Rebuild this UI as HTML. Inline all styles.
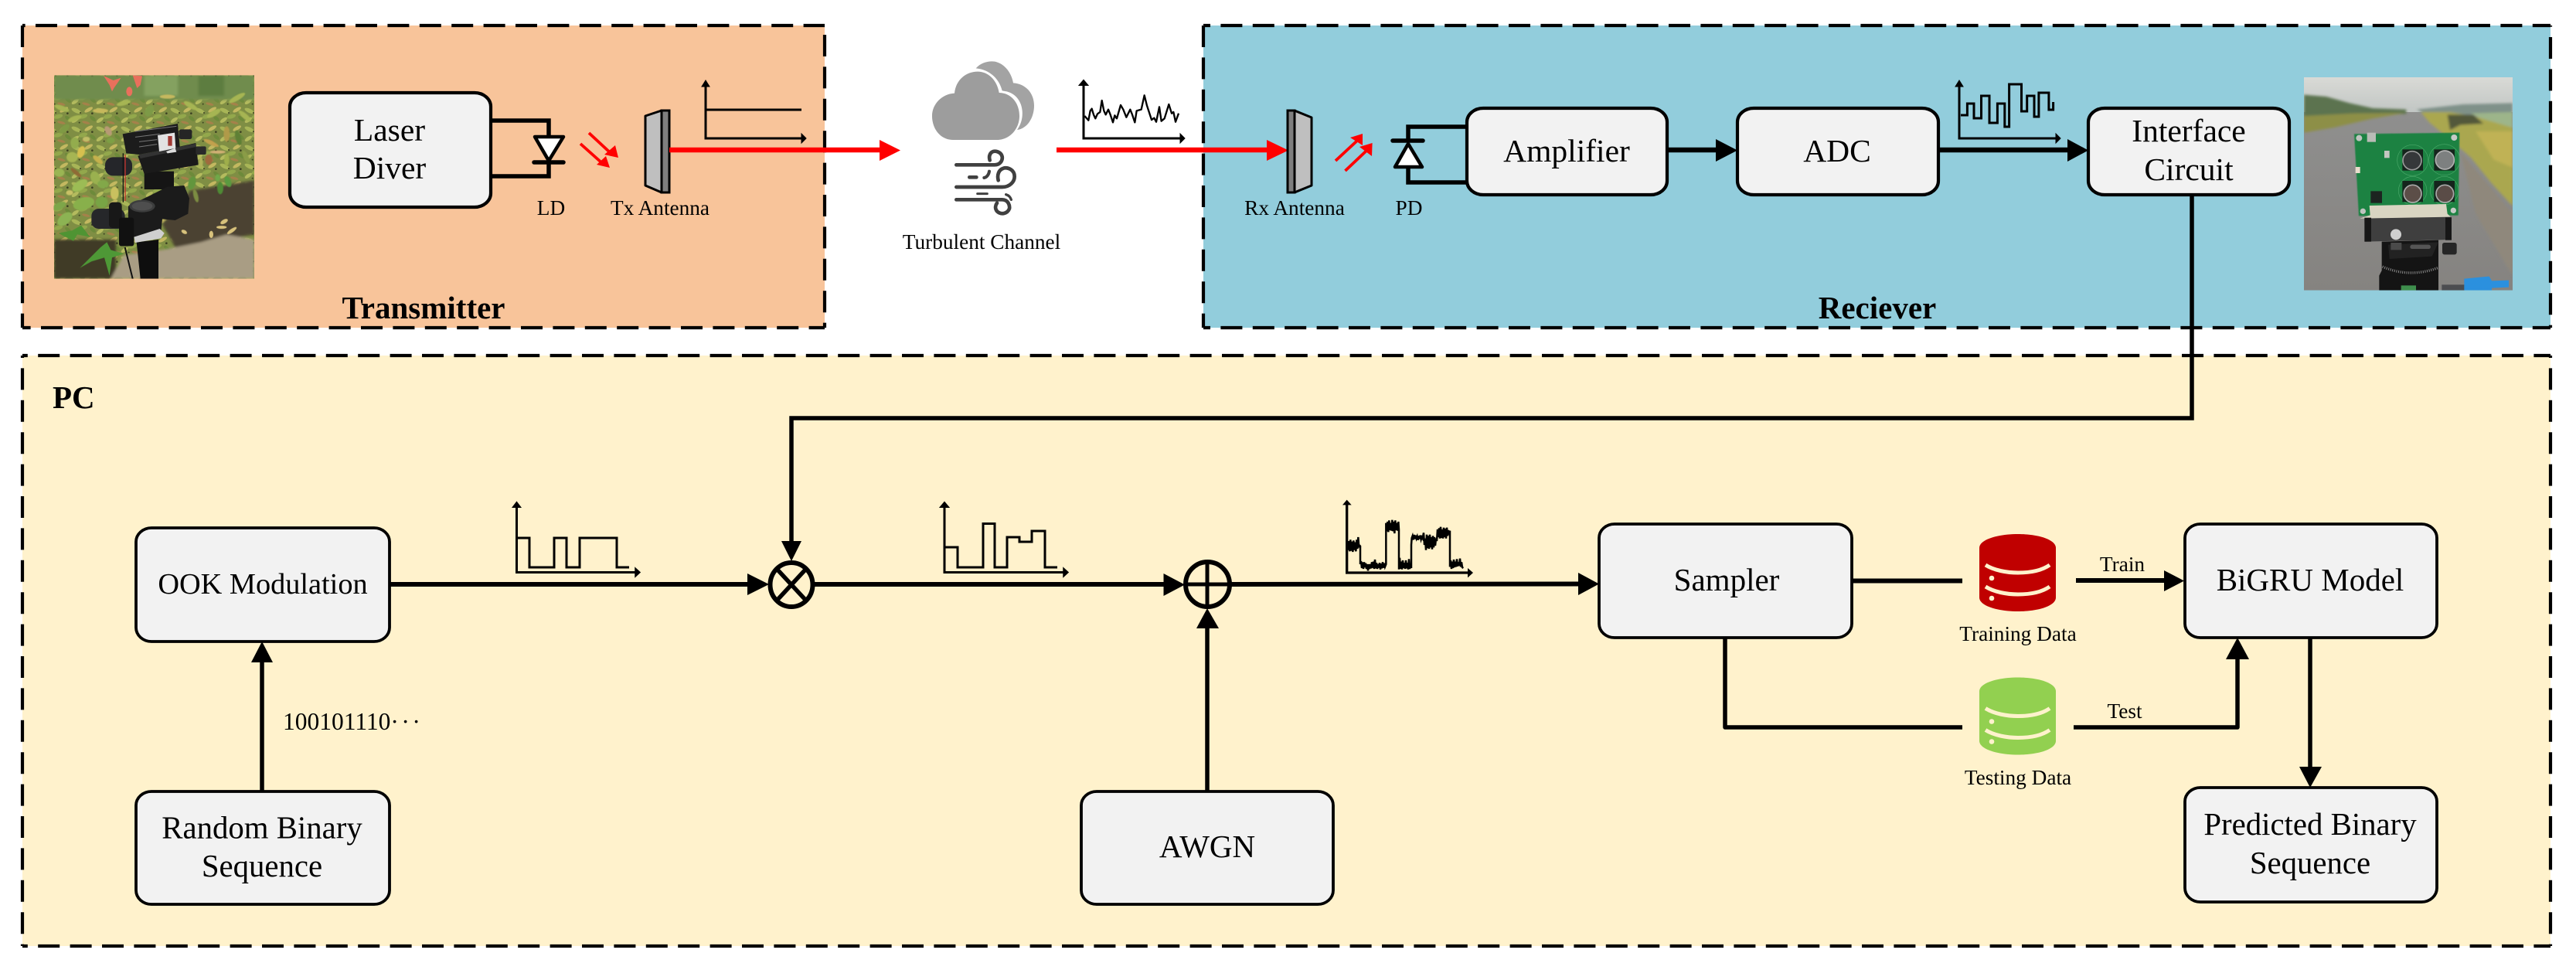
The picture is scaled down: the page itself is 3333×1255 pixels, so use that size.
<!DOCTYPE html>
<html><head><meta charset="utf-8"><title>Diagram</title>
<style>
html,body{margin:0;padding:0;background:#fff}
svg{display:block}
text{font-family:"Liberation Serif","Times New Roman",serif;fill:#000}
.b{font-size:41.5px;text-anchor:middle}
.s{font-size:27.3px;text-anchor:middle}
.h{font-size:41px;font-weight:bold;text-anchor:middle}
.box{fill:#f2f2f2;stroke:#000;stroke-width:4.2}
.bx2{fill:#f2f2f2;stroke:#000;stroke-width:3.8}
.d{fill:none;stroke:#000;stroke-width:4.2;stroke-dasharray:28 13.4}
.l{fill:none;stroke:#000;stroke-width:5.5}
.t{fill:none;stroke:#000;stroke-width:3}
</style></head>
<body>
<svg xmlns="http://www.w3.org/2000/svg" width="3333" height="1255" viewBox="0 0 3333 1255">
<defs>
<clipPath id="c1"><rect x="30" y="22" width="777" height="790"/></clipPath>
<clipPath id="c2"><rect x="33" y="30" width="810" height="827"/></clipPath>
<filter id="bl" x="-5%" y="-5%" width="110%" height="110%"><feGaussianBlur stdDeviation="5"/></filter>
<filter id="bs" x="-5%" y="-5%" width="110%" height="110%"><feGaussianBlur stdDeviation="1.6"/></filter>
<linearGradient id="sky" x1="0" y1="0" x2="0" y2="1"><stop offset="0" stop-color="#d9dad6"/><stop offset="1" stop-color="#bfc4c2"/></linearGradient>
<linearGradient id="road" x1="0" y1="0" x2="0" y2="1"><stop offset="0" stop-color="#8f8f8e"/><stop offset="1" stop-color="#858380"/></linearGradient>
<pattern id="lv" width="96" height="72" patternUnits="userSpaceOnUse">
<rect width="96" height="72" fill="#7f8e44"/>
<ellipse cx="20" cy="16" rx="20" ry="8" transform="rotate(25 20 16)" fill="#a8b557"/>
<ellipse cx="68" cy="12" rx="18" ry="7" transform="rotate(-30 68 12)" fill="#c3b860"/>
<ellipse cx="46" cy="38" rx="18" ry="8" transform="rotate(-15 46 38)" fill="#93a84c"/>
<ellipse cx="84" cy="46" rx="14" ry="7" transform="rotate(40 84 46)" fill="#6d8a3a"/>
<ellipse cx="16" cy="52" rx="16" ry="7" transform="rotate(-35 16 52)" fill="#b4bb5e"/>
<ellipse cx="58" cy="62" rx="16" ry="5" transform="rotate(15 58 62)" fill="#a5814a"/>
<circle cx="36" cy="24" r="3" fill="#3e4423"/><circle cx="82" cy="26" r="4" fill="#3b4022"/><circle cx="32" cy="62" r="3" fill="#3e4423"/>
</pattern>
</defs>

<!-- panels -->
<rect x="29" y="33" width="1038" height="391" fill="#f8c49a"/>
<rect x="1557" y="33" width="1743" height="391" fill="#92cddc"/>
<rect x="29" y="460" width="3271" height="764" fill="#fff2cc"/>

<!-- Photo 1 -->
<g transform="translate(60,90) scale(0.33333)" clip-path="url(#c1)">
<rect x="30" y="22" width="777" height="790" fill="url(#lv)"/>
<g filter="url(#bl)">
<rect x="30" y="22" width="777" height="95" fill="#6f8c4d"/>
<rect x="380" y="22" width="130" height="80" fill="#84a161"/>
<rect x="590" y="22" width="100" height="80" fill="#5d7d3f"/>
<polygon points="560,470 807,430 807,640 500,690 450,600" fill="#4c4230"/>
<rect x="30" y="660" width="240" height="152" fill="#3f3a28"/>
<polygon points="250,812 300,720 450,700 600,670 700,640 807,660 807,812" fill="#a99d84"/>
</g>
<g fill="#a6b552" filter="url(#bs)">
<ellipse cx="60" cy="150" rx="30" ry="10" transform="rotate(20 60 150)"/><ellipse cx="110" cy="190" rx="28" ry="10" transform="rotate(-20 110 190)"/><ellipse cx="210" cy="160" rx="30" ry="9" fill="#c6b85c"/><ellipse cx="300" cy="130" rx="28" ry="9" transform="rotate(-15 300 130)"/><ellipse cx="400" cy="160" rx="16" ry="24" transform="rotate(30 400 160)" fill="#7d9a46"/><ellipse cx="470" cy="105" rx="30" ry="8" fill="#c5b85f"/><ellipse cx="560" cy="140" rx="30" ry="10" transform="rotate(30 560 140)"/><ellipse cx="650" cy="170" rx="30" ry="11" transform="rotate(-30 650 170)"/><ellipse cx="740" cy="110" rx="36" ry="10" transform="rotate(-30 740 110)"/><ellipse cx="770" cy="180" rx="30" ry="10" transform="rotate(40 770 180)"/><ellipse cx="700" cy="250" rx="12" ry="30" fill="#b09a4a"/><ellipse cx="745" cy="265" rx="11" ry="30" transform="rotate(-15 745 265)" fill="#5f8036"/><ellipse cx="640" cy="285" rx="32" ry="8" transform="rotate(25 640 285)" fill="#c2a14e"/><ellipse cx="775" cy="340" rx="10" ry="28" transform="rotate(-25 775 340)" fill="#8a9c46"/><ellipse cx="665" cy="320" rx="30" ry="6" fill="#d2b074"/><ellipse cx="630" cy="350" rx="14" ry="20" fill="#a06a3c"/><ellipse cx="700" cy="350" rx="10" ry="24" fill="#9fae4b"/>
<ellipse cx="675" cy="460" rx="12" ry="24" fill="#4f8a36"/><ellipse cx="705" cy="435" rx="12" ry="22" transform="rotate(-20 705 435)" fill="#5a9a3f"/><ellipse cx="565" cy="440" rx="14" ry="26" transform="rotate(15 565 440)" fill="#62963e"/><ellipse cx="665" cy="420" rx="10" ry="14" fill="#70a848"/><ellipse cx="600" cy="360" rx="8" ry="20" fill="#b0b35a"/><ellipse cx="580" cy="490" rx="9" ry="26" transform="rotate(-15 580 490)" fill="#7c8c42"/>
<ellipse cx="145" cy="520" rx="42" ry="24" transform="rotate(-15 145 520)" fill="#88b04c"/><ellipse cx="72" cy="580" rx="34" ry="20" transform="rotate(-40 72 580)" fill="#8cb352"/><ellipse cx="50" cy="530" rx="28" ry="14" transform="rotate(-25 50 530)" fill="#7ea648"/><ellipse cx="130" cy="450" rx="34" ry="18" transform="rotate(-35 130 450)" fill="#9cbc55"/><ellipse cx="190" cy="420" rx="18" ry="26" transform="rotate(-20 190 420)" fill="#9ab150"/><ellipse cx="215" cy="515" rx="24" ry="22" fill="#78a444"/><ellipse cx="265" cy="480" rx="16" ry="26" fill="#c9c05e"/><ellipse cx="90" cy="478" rx="14" ry="10" fill="#c9c166"/><ellipse cx="220" cy="445" rx="22" ry="16" fill="#82a84a"/><ellipse cx="135" cy="320" rx="14" ry="24" transform="rotate(20 135 320)" fill="#d6c04f"/><ellipse cx="100" cy="340" rx="22" ry="20" fill="#a6b552"/><ellipse cx="50" cy="400" rx="20" ry="16" fill="#9ab552"/><ellipse cx="115" cy="400" rx="26" ry="8" transform="rotate(40 115 400)" fill="#8f6a36"/><ellipse cx="110" cy="285" rx="16" ry="22" fill="#93ac4e"/><ellipse cx="240" cy="238" rx="12" ry="20" transform="rotate(-30 240 238)" fill="#b79a74"/><ellipse cx="155" cy="270" rx="14" ry="10" fill="#c0bd66"/><ellipse cx="200" cy="350" rx="24" ry="10" transform="rotate(40 200 350)" fill="#c5b14e"/><ellipse cx="70" cy="230" rx="24" ry="12" transform="rotate(-40 70 230)" fill="#7f9a44"/><ellipse cx="250" cy="275" rx="16" ry="12" fill="#7da044"/>
</g>
<polygon points="45,635 100,625 135,605 170,650 120,640 105,665" fill="#4f9433"/>
<polygon points="130,770 210,690 235,670 250,700 300,715 255,730 245,800 225,730 175,745" fill="#4e9836"/>
<g fill="#d8c27c"><ellipse cx="690" cy="590" rx="16" ry="8" transform="rotate(-30 690 590)"/><ellipse cx="720" cy="625" rx="22" ry="7" transform="rotate(-35 720 625)"/><ellipse cx="680" cy="612" rx="20" ry="6"/><ellipse cx="535" cy="630" rx="12" ry="7" transform="rotate(30 535 630)"/><ellipse cx="640" cy="640" rx="8" ry="14"/></g>
<g fill="#e8705c"><polygon points="222,24 260,42 290,32 262,72 255,85 245,60"/><polygon points="335,22 372,25 365,60 352,72"/><ellipse cx="322" cy="85" rx="12" ry="18"/></g>
<!-- tripod -->
<polygon points="350,670 435,660 435,812 365,812" fill="#0e0e0e"/>
<path d="M305,690 L335,812" stroke="#111" stroke-width="6" fill="none"/>
<rect x="380" y="395" width="115" height="70" fill="#151515"/>
<rect x="175" y="540" width="130" height="78" rx="28" fill="#26272a"/>
<rect x="243" y="515" width="50" height="100" rx="14" fill="#181818"/>
<polygon points="318,530 400,490 470,455 535,450 555,500 550,560 500,585 450,580 445,630 340,650 318,600" fill="#1b1b1b"/>
<ellipse cx="372" cy="530" rx="50" ry="24" fill="#3c3d3d"/><ellipse cx="372" cy="530" rx="40" ry="17" fill="#4e4e4e"/>
<polygon points="340,650 440,618 458,635 445,655 345,672" fill="#cfcfcf"/>
<rect x="282" y="575" width="58" height="110" rx="8" fill="#111"/>
<rect x="228" y="340" width="105" height="72" rx="30" fill="#25262a"/>
<polygon points="355,335 580,285 590,370 380,405" fill="#1a1a1a"/>
<polygon points="360,330 578,288 582,300 365,345" fill="#333"/>
<rect x="580" y="298" width="40" height="32" rx="6" fill="#2a2a2a"/>
<polygon points="296,250 510,210 518,300 360,330 310,325" fill="#1c1c1c"/>
<g stroke="#777" stroke-width="3" fill="none"><path d="M345,240 L505,220M345,262 L440,250M360,280 L430,272M360,300 L430,290"/></g>
<rect x="515" y="232" width="50" height="38" rx="8" fill="#252525"/>
<polygon points="432,255 498,245 502,305 438,318" fill="#e2e2e2"/>
<rect x="472" y="258" width="16" height="38" fill="#a23a34"/>
<polygon points="465,318 500,305 505,320 470,325" fill="#ddd"/>
<path d="M306,330 L306,510" stroke="#c4322e" stroke-width="4" fill="none"/><path d="M298,325 L298,515" stroke="#111" stroke-width="4" fill="none"/>
</g>

<!-- Photo 2 -->
<g transform="translate(2970,90) scale(0.33333)" clip-path="url(#c2)">
<rect x="33" y="30" width="810" height="150" fill="url(#sky)"/>
<rect x="33" y="165" width="810" height="692" fill="url(#road)"/>
<g filter="url(#bl)">
<polygon points="470,155 650,135 843,130 843,185 500,170" fill="#7f9189"/>
<polygon points="680,170 843,165 843,225 760,210" fill="#9db58a"/>
<polygon points="33,98 120,105 210,130 300,150 430,155 430,172 33,185" fill="#5c7350"/>
<polygon points="33,180 230,170 430,168 300,190 150,225 33,245" fill="#8d8f47"/>
<polygon points="640,320 843,560 843,800 700,560" fill="#8f887c"/>
<polygon points="487,165 600,165 690,180 843,225 843,530 760,440 680,340 610,280 520,205" fill="#aaa750"/>
<polygon points="590,175 690,175 730,210 640,215 600,235" fill="#53583a"/>
<polygon points="700,240 843,240 843,380 770,350" fill="#c0b254"/>
</g>
<polygon points="228,250 637,245 632,566 246,568" fill="#1e8243" filter="url(#bs)"/>
<g fill="none" stroke="#4aa96a" stroke-width="2"><circle cx="455" cy="352" r="60"/><circle cx="578" cy="350" r="60"/><circle cx="455" cy="470" r="55"/><circle cx="578" cy="470" r="55"/></g>
<rect x="415" y="310" width="80" height="82" fill="#15241c"/><rect x="538" y="310" width="80" height="82" fill="#15241c"/><rect x="415" y="432" width="80" height="82" fill="#15241c"/><rect x="538" y="432" width="80" height="82" fill="#15241c"/>
<circle cx="453" cy="353" r="36" fill="#35383a" stroke="#9a9a9a" stroke-width="5"/><circle cx="580" cy="351" r="36" fill="#7d8080" stroke="#b0b0b0" stroke-width="5"/><circle cx="455" cy="482" r="34" fill="#5c4e48" stroke="#a9a9a9" stroke-width="5"/><circle cx="580" cy="482" r="34" fill="#5a4c47" stroke="#a9a9a9" stroke-width="5"/>
<rect x="278" y="245" width="34" height="36" fill="#b9bcb6"/><rect x="345" y="315" width="20" height="28" fill="#c4c6c0"/><rect x="233" y="378" width="18" height="24" fill="#e8dccc"/><rect x="292" y="472" width="44" height="46" fill="#1c2420"/>
<circle cx="247" cy="266" r="12" fill="#bfc4bf"/><circle cx="616" cy="264" r="12" fill="#c6cac6"/><circle cx="262" cy="550" r="11" fill="#bfc4bf"/><circle cx="613" cy="547" r="11" fill="#c6cac6"/>
<polygon points="287,528 585,522 590,560 605,574 250,578 290,565" fill="#d9d5c2"/>
<polygon points="268,578 605,572 605,660 270,668" fill="#3f3f3f"/>
<rect x="268" y="575" width="26" height="93" fill="#171717"/><rect x="582" y="574" width="24" height="88" fill="#171717"/>
<circle cx="390" cy="640" r="21" fill="#cfcfcf"/>
<polygon points="335,668 555,662 555,857 325,857 325,800 335,780" fill="#141414"/>
<polygon points="360,680 555,670 530,725 365,735" fill="#222"/>
<rect x="370" y="672" width="42" height="28" fill="#4a4a4a"/><rect x="445" y="680" width="80" height="16" rx="8" fill="#555"/>
<rect x="570" y="672" width="56" height="46" rx="8" fill="#262626"/>
<path d="M338,765 Q440,810 552,770" fill="none" stroke="#8a8a8a" stroke-width="10" stroke-dasharray="3 5"/>
<rect x="410" y="838" width="58" height="19" fill="#3f8f4d"/>
<rect x="568" y="835" width="90" height="22" fill="#4c4d50"/>
<polygon points="655,812 725,805 752,803 762,820 828,818 828,845 762,848 762,857 655,857" fill="#2b90de"/>
</g>

<!-- Dashed borders -->
<line class="d" x1="29" y1="33" x2="1067" y2="33" stroke-dashoffset="24.4"/>
<line class="d" x1="29" y1="33" x2="29" y2="424"/>
<line class="d" x1="1067" y1="33" x2="1067" y2="424" stroke-dashoffset="29.4"/>
<line class="d" x1="29" y1="424" x2="1067" y2="424" stroke-dashoffset="17.4"/>
<line class="d" x1="1557" y1="33" x2="3300" y2="33" stroke-dashoffset="19"/>
<line class="d" x1="1557" y1="33" x2="1557" y2="424"/>
<line class="d" x1="3300" y1="33" x2="3300" y2="424" stroke-dashoffset="26.4"/>
<line class="d" x1="1557" y1="424" x2="3300" y2="424" stroke-dashoffset="19"/>
<line class="d" x1="29" y1="460" x2="3300" y2="460" stroke-dashoffset="21.2"/>
<line class="d" x1="29" y1="460" x2="29" y2="1224" stroke-dashoffset="25"/>
<line class="d" x1="3300" y1="460" x2="3300" y2="1224" stroke-dashoffset="25"/>
<line class="d" x1="29" y1="1224" x2="3300" y2="1224" stroke-dashoffset="21.2"/>

<!-- Boxes -->
<rect class="box" x="375" y="120" width="260" height="148" rx="21" ry="18"/>
<rect class="box" x="1898" y="140" width="259" height="112" rx="21" ry="18"/>
<rect class="box" x="2248" y="140" width="260" height="112" rx="21" ry="18"/>
<rect class="box" x="2702" y="140" width="260" height="112" rx="21" ry="18"/>
<rect class="bx2" x="176" y="683" width="328" height="147" rx="20" ry="18"/>
<rect class="bx2" x="176" y="1024" width="328" height="146" rx="20" ry="18"/>
<rect class="bx2" x="1399" y="1024" width="326" height="146" rx="20" ry="18"/>
<rect class="bx2" x="2069" y="678" width="327" height="147" rx="20" ry="18"/>
<rect class="bx2" x="2827" y="678" width="326" height="147" rx="20" ry="18"/>
<rect class="bx2" x="2827" y="1019" width="326" height="148" rx="20" ry="18"/>

<!-- LD -->
<path class="l" d="M635,156 H710 V176 M710,210 V228 H635"/>
<polygon points="692,177 729,177 710,208" fill="#fff" stroke="#000" stroke-width="4.5" stroke-linejoin="round"/>
<line x1="691" y1="210" x2="729" y2="210" stroke="#000" stroke-width="5.5" stroke-linecap="round"/>
<!-- red beams Tx -->
<path d="M762,172 L790,198 M751,186 L779,211" stroke="#f00" stroke-width="3.8" fill="none"/>
<polygon points="796,188 800,204 782,200" fill="#f00"/><polygon points="784,202 789,217 772,213" fill="#f00"/>
<!-- Tx antenna -->
<polygon points="835,150 856,143 856,249 835,240" fill="#bfbfbf" stroke="#000" stroke-width="3" stroke-linejoin="round"/>
<polygon points="856,143 866,143 866,249 856,249" fill="#7f7f7f" stroke="#000" stroke-width="3"/>
<!-- Tx wave -->
<path class="t" d="M913,108 V179 H1040 M913,142 H1037"/>
<polygon points="908,112 913,104 918,112" stroke="#000"/><polygon points="1037,173 1043,179 1037,185" stroke="#000"/>
<!-- Red path -->
<line x1="866" y1="194" x2="1142" y2="194" stroke="#f00" stroke-width="6.5"/>
<polygon points="1138,181 1165,194.5 1138,208" fill="#f00"/>
<line x1="1367" y1="194" x2="1642" y2="194" stroke="#f00" stroke-width="6.5"/>
<polygon points="1639,181 1667,194.5 1639,208" fill="#f00"/>

<!-- Cloud & wind -->
<g transform="translate(1190,70) scale(0.33333)">
<path d="M218,55 C235,35 260,28 280,28 C320,28 355,65 363,112 C410,115 444,150 444,200 C444,250 415,290 378,294 C395,270 400,245 398,220 C395,185 375,155 338,145 L320,142 C310,100 275,60 218,55Z" fill="#a3a3a3"/>
<path d="M130,333 C80,333 48,290 48,240 C48,195 85,155 135,152 C140,100 180,68 225,68 C265,68 300,100 308,150 C355,150 387,190 387,240 C387,290 350,333 300,333 Z" fill="#9d9d9d"/>
<g fill="none" stroke="#404040" stroke-width="14" stroke-linecap="round">
<path d="M142,430 L290,430 C315,430 322,410 320,398 C315,378 290,372 278,382 C268,392 270,405 272,412"/>
<path d="M142,516 L320,516 C350,516 368,495 368,475 C368,450 345,440 328,442 C305,448 300,470 305,490"/>
<path d="M142,565 L320,565 C345,565 350,590 348,600 C340,620 315,625 300,610 C290,598 295,585 300,578"/>
<path d="M335,545 C345,548 352,555 355,565" stroke-width="10"/>
<path d="M193,478 L220,478"/>
<path d="M250,480 C260,478 268,468 270,455" stroke-width="12"/>
<path d="M224,542 L262,542" stroke-width="9"/>
</g>
</g>
<!-- Noise wave -->
<g transform="translate(1380,90) scale(0.33333)">
<polyline fill="none" stroke="#000" stroke-width="7" stroke-linejoin="round" points="70,180 85,197 92,160 98,152 105,175 112,190 120,172 130,165 137,120 145,160 152,175 162,155 170,175 180,205 187,178 195,190 210,138 220,155 232,185 247,155 255,175 265,205 272,160 290,155 302,100 312,140 330,195 340,188 348,203 360,145 368,200 380,190 397,135 408,170 415,165 423,203 435,170"/>
</g>
<path class="t" d="M1402,108 V179 H1530"/>
<polygon points="1397,110 1402,104 1407,110" stroke="#000" stroke-width="2"/><polygon points="1527,173 1533,179 1527,185" stroke="#000"/>

<!-- Rx antenna -->
<polygon points="1675,143 1697,152 1697,240 1675,249" fill="#bfbfbf" stroke="#000" stroke-width="3" stroke-linejoin="round"/>
<polygon points="1666,143 1675,143 1675,249 1666,249" fill="#7f7f7f" stroke="#000" stroke-width="3"/>
<!-- red beams Rx -->
<path d="M1728,208 L1756,182 M1740.5,221 L1768,195" stroke="#f00" stroke-width="3.8" fill="none"/>
<polygon points="1747,178 1763,173 1763,188" fill="#f00"/><polygon points="1759,190 1775.6,185 1775,202" fill="#f00"/>
<!-- PD -->
<path class="l" d="M1898,164 H1822 V182 M1822,216 V236 H1898"/>
<polygon points="1822,186 1805,216 1840,216" fill="#fff" stroke="#000" stroke-width="4.5" stroke-linejoin="round"/>
<line x1="1802" y1="182" x2="1841" y2="182" stroke="#000" stroke-width="5.5" stroke-linecap="round"/>

<!-- Top chain -->
<line x1="2157" y1="194" x2="2225" y2="194" stroke="#000" stroke-width="6.5"/>
<polygon points="2220,180 2248,194.5 2220,209"/>
<line x1="2508" y1="194" x2="2680" y2="194" stroke="#000" stroke-width="6.5"/>
<polygon points="2675,180 2702,194.5 2675,209"/>
<!-- ADC wave -->
<path class="t" d="M2535,108 V179 H2663"/>
<polygon points="2530,112 2535,104 2540,112" stroke="#000"/><polygon points="2660,173 2666,179 2660,185" stroke="#000"/>
<polyline class="t" points="2537,149 2545.4,149 2545.4,134 2554,134 2554,153 2563.5,153 2563.5,124 2574,124 2574,159 2584.4,159 2584.4,134 2593.8,134 2593.8,164 2599.6,164 2599.6,109 2615.5,109 2615.5,144 2622.7,144 2622.7,124 2632,124 2632,151 2637.9,151 2637.9,120 2650.9,120 2650.9,142 2656.6,142 2656.6,132"/>

<!-- Interface to PC -->
<path class="l" d="M2836,252 V541 H1024 V705"/>
<polygon points="1011,700 1024,726 1037,700"/>
<!-- OOK -->
<line x1="504" y1="756" x2="972" y2="756" stroke="#000" stroke-width="6"/>
<polygon points="967,742 995,756 967,770"/>
<line x1="339" y1="1024" x2="339" y2="850" stroke="#000" stroke-width="5.5"/>
<polygon points="325,857 339,830 353,857"/>
<!-- Mult -->
<ellipse cx="1024" cy="756.5" rx="27.5" ry="28.5" fill="none" stroke="#000" stroke-width="6"/>
<path d="M1005,736 L1043,777 M1043,736 L1005,777" stroke="#000" stroke-width="5.5" fill="none"/>
<!-- wave 1 -->
<path class="t" d="M668.5,654 V740.5 H825"/>
<polygon points="664,656 668.5,650 673,656" stroke="#000" stroke-width="2"/><polygon points="822,735 828,740.5 822,746" stroke="#000" stroke-width="1.5"/>
<polyline class="t" points="668,696 685,696 685,734 717,734 717,696 733,696 733,734 750,734 750,696 798,696 798,734 814,734"/>
<!-- mult to adder -->
<line x1="1051" y1="756" x2="1510" y2="756" stroke="#000" stroke-width="6"/>
<polygon points="1505.5,742 1533,756.5 1505.5,771"/>
<ellipse cx="1562.5" cy="756" rx="28.5" ry="29" fill="none" stroke="#000" stroke-width="6"/>
<path d="M1562,727 V786 M1534,756 H1592" stroke="#000" stroke-width="5" fill="none"/>
<!-- wave 2 -->
<path class="t" d="M1222,654 V740.5 H1379"/>
<polygon points="1217,656 1222,650 1227,656" stroke="#000" stroke-width="2"/><polygon points="1376,735 1382,740.5 1376,746" stroke="#000" stroke-width="1.5"/>
<polyline class="t" points="1222,708 1239,708 1239,734 1272,734 1272,677.5 1287,677.5 1287,734 1303,734 1303,695 1319,695 1319,701 1335,701 1335,687 1352,687 1352,734 1368,734"/>
<!-- AWGN arrow -->
<line x1="1562" y1="1024" x2="1562" y2="808" stroke="#000" stroke-width="5.5"/>
<polygon points="1548,813 1562,787 1577,813"/>
<!-- adder to sampler -->
<line x1="1590" y1="756" x2="2048" y2="755.5" stroke="#000" stroke-width="6"/>
<polygon points="2042,741 2069,755.5 2042,770"/>
<!-- wave 3 -->
<g transform="translate(1710,630) scale(0.33333)">
<path d="M98,62 V333 H578" fill="none" stroke="#000" stroke-width="10"/>
<polygon points="81,70 98,50 116,70"/><polygon points="567,315 588,333 567,352"/>
<polyline fill="none" stroke="#000" stroke-width="7.5" points="100,215 103,245 106,210 109,250 112,205 115,248 118,212 121,252 124,208 127,245 130,215 133,250 136,205 139,240 142,195 145,235 148,228 150,230 150,300 153,288 156,315 159,292 162,318 165,292 168,312 171,296 174,318 177,300 180,325 183,300 186,318 189,300 192,316 195,292 198,314 201,290 204,318 207,282 210,316 213,295 216,318 219,300 222,314 225,295 228,320 231,298 234,316 237,292 240,314 243,296 246,310 250,300 250,150 250,140 253,172 256,135 259,175 262,130 265,168 268,140 271,170 274,128 277,172 280,135 283,180 286,130 289,168 292,140 295,170 298,135 300,165 300,320 303,275 306,318 309,290 312,320 315,285 318,315 321,295 324,318 327,285 330,316 333,295 336,320 339,280 342,318 345,300 348,315 348,225 350,198 353,190 356,205 359,186 362,202 365,188 368,200 371,192 374,206 377,190 380,202 383,188 386,204 389,195 392,200 396,178 399,225 402,200 405,245 408,185 411,238 414,190 417,240 420,185 423,235 426,195 429,242 432,190 435,235 438,195 441,228 444,200 447,210 450,165 453,195 456,160 459,200 462,155 465,198 468,165 471,200 474,158 477,195 480,162 483,200 486,158 489,190 492,168 495,185 498,170 498,310 501,285 504,318 507,290 510,315 513,282 516,312 519,290 522,310 525,280 528,308 531,292 534,306 537,278 540,310 543,292 546,312 550,315"/>
</g>
<!-- Sampler connectors -->
<line x1="2396" y1="751.5" x2="2539" y2="751.5" stroke="#000" stroke-width="6"/>
<path d="M2232,825 V941 H2539" fill="none" stroke="#000" stroke-width="5.5" stroke-linejoin="round"/>
<line x1="2686" y1="751" x2="2805" y2="751" stroke="#000" stroke-width="6"/>
<polygon points="2800,738 2826,751.5 2800,765"/>
<path d="M2683,941 H2895 V848" fill="none" stroke="#000" stroke-width="5.5" stroke-linejoin="round"/>
<polygon points="2880,853 2895,825 2910,853"/>
<line x1="2989" y1="825" x2="2989" y2="998" stroke="#000" stroke-width="5.5"/>
<polygon points="2975,992 2989,1019 3004,992"/>
<!-- DBs -->
<g>
<path d="M2561,709 C2561,698 2585,691 2611,691 C2637,691 2660,698 2660,709 L2660,773 C2660,784 2637,791 2611,791 C2585,791 2561,784 2561,773 Z" fill="#c00000"/>
<path d="M2569,731 C2580,738 2597,741 2611,741 C2627,741 2642,738 2652,731 M2569,759 C2580,766 2597,769 2611,769 C2627,769 2642,766 2652,759" fill="none" stroke="#fff2cc" stroke-width="5"/>
<circle cx="2577" cy="748" r="3.3" fill="#fff2cc"/><circle cx="2577" cy="774" r="3.3" fill="#fff2cc"/>
</g>
<g transform="translate(0,185.5)">
<path d="M2561,709 C2561,698 2585,691 2611,691 C2637,691 2660,698 2660,709 L2660,773 C2660,784 2637,791 2611,791 C2585,791 2561,784 2561,773 Z" fill="#92d050"/>
<path d="M2569,731 C2580,738 2597,741 2611,741 C2627,741 2642,738 2652,731 M2569,759 C2580,766 2597,769 2611,769 C2627,769 2642,766 2652,759" fill="none" stroke="#fff2cc" stroke-width="5"/>
<circle cx="2577" cy="748" r="3.3" fill="#fff2cc"/><circle cx="2577" cy="774" r="3.3" fill="#fff2cc"/>
</g>

<!-- Text -->
<text class="b" x="504" y="182">Laser</text>
<text class="b" x="504" y="231">Diver</text>
<text class="s" x="713" y="278">LD</text>
<text class="s" x="854" y="278">Tx Antenna</text>
<text class="h" x="548" y="412">Transmitter</text>
<text class="s" x="1270" y="322">Turbulent Channel</text>
<text class="s" x="1675" y="278">Rx Antenna</text>
<text class="s" x="1823" y="278">PD</text>
<text class="b" x="2027" y="209">Amplifier</text>
<text class="b" x="2377" y="209">ADC</text>
<text class="b" x="2832" y="183">Interface</text>
<text class="b" x="2832" y="233">Circuit</text>
<text class="h" x="2429" y="412">Reciever</text>
<text class="h" x="68" y="528" style="text-anchor:start">PC</text>
<text class="b" x="340" y="768" style="font-size:38.3px">OOK Modulation</text>
<text class="b" x="339" y="1084.5" style="font-size:40.8px">Random Binary</text>
<text class="b" x="339" y="1134" style="font-size:40.8px">Sequence</text>
<text x="366" y="944" style="font-size:31.5px">100101110<tspan style="letter-spacing:3.5px">···</tspan></text>
<text class="b" x="1562" y="1109" style="font-size:41px">AWGN</text>
<text class="b" x="2234" y="764" style="font-size:41px">Sampler</text>
<text class="b" x="2989" y="764" style="font-size:41px">BiGRU Model</text>
<text class="b" x="2989" y="1080" style="font-size:40.8px">Predicted Binary</text>
<text class="b" x="2989" y="1130" style="font-size:40.8px">Sequence</text>
<text class="s" x="2746" y="739">Train</text>
<text class="s" x="2749" y="929">Test</text>
<text class="s" x="2611" y="829">Training Data</text>
<text class="s" x="2611" y="1015">Testing Data</text>
</svg>
</body></html>
